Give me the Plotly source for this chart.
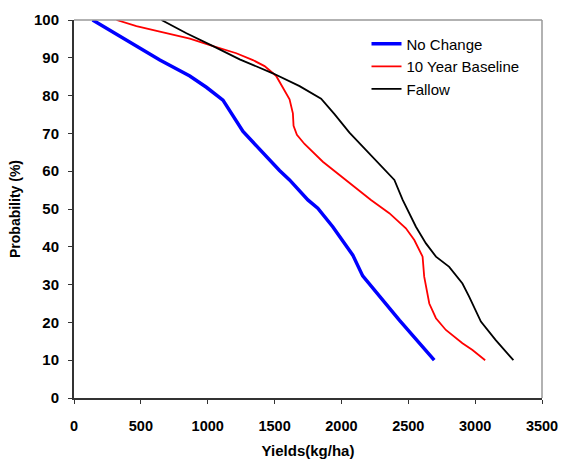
import plotly.graph_objects as go

nc_x = [139, 642, 866, 990, 1114, 1264, 1537, 1612, 1749, 1823, 1935, 2085, 2159, 2308, 2433, 2694]
nc_y = [100, 89.4, 85.2, 82.2, 78.8, 70.5, 60.2, 57.7, 52.4, 50.2, 45.3, 37.8, 32.3, 25.9, 20.6, 10]

bl_x = [318, 467, 642, 866, 1040, 1214, 1338, 1425, 1512, 1612, 1637, 1642, 1667, 1724, 1861, 2035, 2134,
        2221, 2358, 2482, 2545, 2607, 2619, 2657, 2707, 2781, 2905, 2980, 3075]
bl_y = [100, 98.4, 96.9, 95.1, 93.1, 91.2, 89.4, 87.8, 85.2, 79, 75.3, 72, 69.6, 67.2, 62.5, 57.7, 54.8,
        52.4, 48.9, 44.9, 41.8, 37.4, 32.1, 25, 21.1, 18, 14.5, 12.7, 10]

fa_x = [654, 841, 1040, 1239, 1487, 1687, 1848, 1948, 2060, 2184, 2296, 2396, 2458, 2557, 2632, 2707,
        2806, 2905, 2955, 3043, 3154, 3286]
fa_y = [100, 96.5, 93.1, 89.6, 85.9, 82.5, 79.2, 75.1, 70.2, 65.6, 61.6, 57.7, 52.4, 45.3, 40.9, 37.4,
        34.7, 30.3, 26.8, 20.2, 15.3, 10]

x_ticks = [0, 500, 1000, 1500, 2000, 2500, 3000, 3500]
y_ticks = [0, 10, 20, 30, 40, 50, 60, 70, 80, 90, 100]

fig = go.Figure()
fig.add_trace(go.Scatter(x=nc_x, y=nc_y, mode="lines", name="No Change",
                         line=dict(color="#0000FF", width=3.5)))
fig.add_trace(go.Scatter(x=bl_x, y=bl_y, mode="lines", name="10 Year Baseline",
                         line=dict(color="#FF0000", width=1.8)))
fig.add_trace(go.Scatter(x=fa_x, y=fa_y, mode="lines", name="Fallow",
                         line=dict(color="#000000", width=1.8)))

font = "Liberation Sans, Arial, sans-serif"
fig.update_layout(
    width=563, height=459,
    margin=dict(l=74, r=21, t=20, b=61),
    paper_bgcolor="white", plot_bgcolor="white",
    font=dict(family=font, color="black"),
    showlegend=True,
    legend=dict(x=0.625, y=0.98, xanchor="left", yanchor="top",
                bgcolor="rgba(0,0,0,0)", font=dict(size=15, family=font),
                tracegroupgap=0, itemwidth=30),
    xaxis=dict(range=[0, 3500], tickvals=x_ticks, ticks="outside", ticklen=4,
               tickcolor="#333", showline=True, linecolor="#333", linewidth=2,
               mirror=False, showgrid=False, zeroline=False, automargin=False,
               ticklabelstandoff=10,
               tickfont=dict(size=14.5, family=font, weight="bold"),
               title=dict(text="Yields(kg/ha)", font=dict(size=15, family=font, weight="bold"), standoff=14)),
    yaxis=dict(range=[0, 100], tickvals=y_ticks, ticks="outside", ticklen=4,
               tickcolor="#333", showline=True, linecolor="#333", linewidth=2,
               showgrid=False, zeroline=False, automargin=False,
               ticklabelstandoff=6,
               tickfont=dict(size=15, family=font, weight="bold"),
               title=dict(text="Probability (%)", font=dict(size=14, family=font, weight="bold"), standoff=10)),
    shapes=[
        dict(type="line", xref="paper", yref="paper", x0=0, x1=1, y0=1, y1=1,
             line=dict(color="#999", width=1.5)),
        dict(type="line", xref="paper", yref="paper", x0=1, x1=1, y0=0, y1=1,
             line=dict(color="#999", width=1.5)),
    ],
)

fig.write_html("out.html", config={"displayModeBar": False},
               post_script="document.body.style.margin='0';document.body.style.overflow='hidden';")
